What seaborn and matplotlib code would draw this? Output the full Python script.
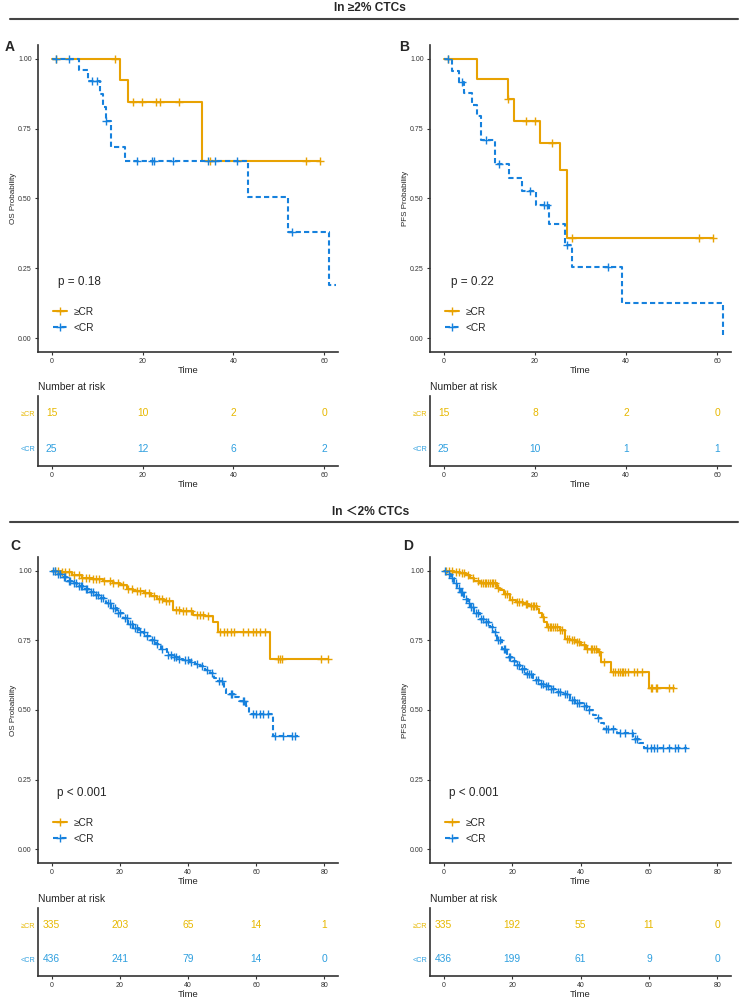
import numpy as np
import pandas as pd
import matplotlib
matplotlib.use('Agg')
import matplotlib.pyplot as plt
from matplotlib.lines import Line2D
import seaborn as sns

sns.set_style('ticks')
plt.rcParams['font.family'] = ['Liberation Sans', 'DejaVu Sans', 'Noto Sans CJK SC']
plt.rcParams['axes.unicode_minus'] = False

# 颜色
ORANGE = '#E8A202'
BLUE = '#1681DD'
ORANGE_TXT = '#E7B800'
BLUE_TXT = '#2E9FDF'
DASH = (0, (2.5, 1.5))

groups = ['≥CR', '<CR']

# ---------- A: OS, >=2% CTCs ----------
a_cr_t = [0, 15.1, 16.9, 33.1]
a_cr_s = [1.0, 0.923, 0.846, 0.634]
a_cr_end = 59.1
a_cr_cens = [0.9, 14.0, 17.9, 19.9, 23.0, 23.9, 28.0, 34.8, 56.0, 59.1]
a_ncr_t = [0, 6.1, 7.9, 10.7, 11.3, 11.9, 13.1, 16.2, 43.1, 52.1, 61.1]
a_ncr_s = [1.0, 0.96, 0.92, 0.874, 0.827, 0.779, 0.686, 0.634, 0.507, 0.380, 0.190]
a_ncr_end = 62.5
a_ncr_cens = [0.9, 3.9, 8.9, 10.0, 12.0, 18.8, 22.0, 22.6, 26.8, 34.4, 35.9, 40.8, 52.8]

# ---------- B: PFS, >=2% CTCs ----------
b_cr_t = [0, 7.2, 14.0, 15.5, 21.2, 25.5, 27.1]
b_cr_s = [1.0, 0.929, 0.857, 0.777, 0.70, 0.601, 0.482]
b_cr_t = b_cr_t + [27.1001]
b_cr_s = b_cr_s + [0.36]
b_cr_end = 59.0
b_cr_cens = [1.0, 14.1, 18.0, 20.0, 23.8, 28.2, 55.9, 59.0]
b_ncr_t = [0, 1.9, 3.4, 4.5, 6.3, 7.4, 8.1, 11.2, 14.3, 17.2, 20.3, 23.1, 26.5, 28.2, 39.1, 61.2]
b_ncr_s = [1.0, 0.958, 0.919, 0.877, 0.836, 0.794, 0.711, 0.622, 0.575, 0.527, 0.476, 0.408, 0.333, 0.254, 0.127, 0.01]
b_ncr_end = 61.3
b_ncr_cens = [1.0, 4.1, 9.2, 12.1, 18.9, 22.0, 22.7, 27.1, 36.0]

# ---------- C: OS, <2% CTCs ----------
c_cr_t = [0, 3, 6, 9, 12, 15, 18, 20, 22, 24, 27, 29, 31, 33, 35.7, 38, 41.5, 45, 47.3, 48.8, 64.1]
c_cr_s = [1.0, 0.995, 0.985, 0.975, 0.97, 0.964, 0.955, 0.948, 0.935, 0.928, 0.92, 0.91, 0.899,
          0.892, 0.86, 0.855, 0.842, 0.838, 0.815, 0.782, 0.684]
c_cr_end = 81.2
c_cr_cens = [1, 2, 3, 4, 5, 6.5, 8, 9, 10, 11, 12, 13, 14, 15.5, 17, 18, 19.5, 21, 22.5, 23.5,
             25, 26, 27.5, 28.5, 30, 31.5, 32.5, 33.5, 34.5, 36.5, 37.5, 38.5, 39.5, 41, 42.5,
             43.5, 44.5, 46, 49.5, 50.5, 51.5, 52.5, 53.5, 56, 57.5, 59, 60, 61, 62.5,
             66.3, 67, 67.7, 79, 81]
c_ncr_t = [0, 1.5, 3, 4.6, 6, 7.5, 9.4, 11, 12.5, 14.3, 16, 17.5, 19.2, 21, 22.5, 24, 25.5, 27.2,
           28.9, 30.5, 32, 33.7, 35.5, 37, 38.6, 40.5, 42, 43.4, 45, 46.4, 47.5, 48.3, 50.5, 51.2,
           53.5, 55.1, 57, 58, 64.8]
c_ncr_s = [1.0, 0.99, 0.978, 0.965, 0.955, 0.945, 0.934, 0.925, 0.915, 0.902, 0.885, 0.866, 0.848,
           0.83, 0.81, 0.794, 0.78, 0.767, 0.753, 0.737, 0.72, 0.699, 0.69, 0.683, 0.679, 0.672,
           0.665, 0.657, 0.645, 0.633, 0.615, 0.603, 0.575, 0.556, 0.548, 0.532, 0.514, 0.487, 0.406]
c_ncr_end = 72.3
c_ncr_cens = [0.5, 1, 2, 2.5, 3.5, 4, 5, 5.5, 6.5, 7, 8, 8.5, 9, 10, 10.5, 11.5, 12, 13, 13.5,
              14.5, 15, 16.5, 17, 18, 18.5, 19.5, 20, 21.5, 22, 23, 23.5, 24.5, 25, 26, 27, 28,
              29.5, 30, 31, 32.5, 34, 35, 36, 36.5, 37.5, 39, 40, 41, 42.5, 44, 45.5, 47, 49, 50,
              52.5, 53, 56, 56.5, 59, 60, 61, 62, 63.5, 65.5, 68, 70.5, 71.5]

# ---------- D: PFS, <2% CTCs ----------
d_cr_t = [0, 3, 4.9, 6.5, 7.8, 9, 10.7, 15.6, 16.5, 17.5, 19.4, 21, 23.3, 25, 27.2, 28, 28.6, 29.3,
          30.1, 33.9, 35.4, 37, 38.8, 40, 41.7, 45, 46, 48.9, 60]
d_cr_s = [1.0, 0.997, 0.994, 0.985, 0.976, 0.965, 0.955, 0.94, 0.93, 0.917, 0.895, 0.888, 0.881,
          0.874, 0.863, 0.85, 0.833, 0.815, 0.797, 0.786, 0.756, 0.75, 0.744, 0.732, 0.72, 0.708,
          0.673, 0.637, 0.58]
d_cr_end = 67.2
d_cr_cens = [0.8, 1.5, 2.5, 3.5, 4.5, 5.5, 6, 7, 8.5, 10, 11, 11.5, 12, 12.5, 13, 13.5, 14, 14.5,
             15, 16, 18, 18.5, 20, 21.5, 22, 23, 24, 24.5, 25.5, 26, 26.5, 27, 29, 30.5, 31, 31.5,
             32, 32.5, 33, 34, 34.5, 36, 36.5, 37.5, 38, 39, 39.5, 41, 42, 43, 43.5, 44, 44.5,
             45.5, 47, 49.5, 50, 51, 51.5, 52, 52.5, 53, 54, 55.5, 56.5, 58, 60.5, 61, 62, 62.5,
             66, 67]
d_ncr_t = [0, 1, 2, 3, 4, 4.9, 6, 7, 7.8, 9, 10.7, 12, 13.6, 14.5, 15.6, 17, 18.5, 20, 21, 22.3, 24,
           26.2, 28, 29.5, 31, 33, 35, 36.8, 38.5, 40.7, 42, 43.6, 44.5, 46, 47, 50.8, 55.3, 57, 58.6]
d_ncr_s = [1.0, 0.988, 0.976, 0.958, 0.94, 0.923, 0.9, 0.885, 0.869, 0.85, 0.828, 0.815, 0.798, 0.78,
           0.75, 0.72, 0.69, 0.675, 0.66, 0.649, 0.63, 0.607, 0.595, 0.585, 0.577, 0.565, 0.556,
           0.537, 0.525, 0.513, 0.5, 0.483, 0.47, 0.454, 0.432, 0.418, 0.394, 0.38, 0.365]
d_ncr_end = 71.1
d_ncr_cens = [0.5, 1.5, 2.5, 3.5, 4.5, 5, 5.5, 6.5, 7.5, 8, 8.5, 9.5, 10, 11, 11.5, 12.5, 13, 14,
              15, 16, 16.5, 17.5, 18, 19, 19.5, 20.5, 21.5, 22, 23, 23.5, 24.5, 25, 25.5, 27, 27.5,
              28.5, 29, 30, 30.5, 31.5, 32, 33.5, 34, 35.5, 36, 37.5, 38, 39, 39.5, 41, 41.5, 42.5,
              45, 47.5, 48, 49.5, 51.5, 53, 55, 56, 56.5, 59.5, 60.5, 61.5, 62.5, 64, 66, 67.5,
              68.5, 70.5]

# Number at risk
a_risk_cr = [15, 10, 2, 0]
a_risk_ncr = [25, 12, 6, 2]
b_risk_cr = [15, 8, 2, 0]
b_risk_ncr = [25, 10, 1, 1]
c_risk_cr = [335, 203, 65, 14, 1]
c_risk_ncr = [436, 241, 79, 14, 0]
d_risk_cr = [335, 192, 55, 11, 0]
d_risk_ncr = [436, 199, 61, 9, 0]

ticks_top = [0, 20, 40, 60]
ticks_bot = [0, 20, 40, 60, 80]
pvals = ['p = 0.18', 'p = 0.22', 'p < 0.001', 'p < 0.001']

W, H = 740, 999
fig = plt.figure(figsize=(W / 100, H / 100), dpi=100)


def px_axes(l, t, r, b):
    return fig.add_axes([l / W, 1 - b / H, (r - l) / W, (b - t) / H])


def draw_curve(ax, times, surv, t_end, cens, color, ls):
    df = pd.DataFrame({'t': list(times) + [t_end], 's': list(surv) + [surv[-1]]})
    sns.lineplot(data=df, x='t', y='s', drawstyle='steps-post', color=color,
                 linestyle=ls, linewidth=1.5, ax=ax, estimator=None)
    cens = np.array(cens)
    idx = np.searchsorted(times, cens, side='right') - 1
    cy = np.array(surv)[idx]
    sns.scatterplot(x=cens, y=cy, marker='+', s=28, color=color, linewidth=1.0, ax=ax, zorder=3)


def style_axes(ax, xlim, ticks):
    ax.set_xlim(*xlim)
    ax.set_xticks(ticks)
    sns.despine(ax=ax)
    for sp in ['left', 'bottom']:
        ax.spines[sp].set_color('#333333')
        ax.spines[sp].set_linewidth(1.2)
    ax.tick_params(axis='both', labelsize=5, length=2.5, width=0.8, colors='#333333', pad=2)
    ax.set_xlabel('Time', fontsize=6.8, labelpad=0.5)


def km_panel(ax, curves, xlim, ticks, ylabel, ptext, label, lab_xy):
    for (t, s, e, c, col, ls) in curves:
        draw_curve(ax, t, s, e, c, col, ls)
    style_axes(ax, xlim, ticks)
    ax.set_ylim(-0.05, 1.05)
    ax.set_yticks([0, 0.25, 0.5, 0.75, 1.0])
    ax.set_yticklabels(['0.00', '0.25', '0.50', '0.75', '1.00'])
    ax.set_ylabel(ylabel, fontsize=5.8, labelpad=1)
    ax.text(1.5, 0.2, ptext, fontsize=8.5, ha='left', va='center')
    handles = [Line2D([], [], color=ORANGE, lw=1.5, marker='+', markersize=6),
               Line2D([], [], color=BLUE, lw=1.5, ls=DASH, marker='+', markersize=6)]
    ax.legend(handles, groups, loc='center left', bbox_to_anchor=(0.02, 0.105), frameon=False,
              fontsize=7.3, handlelength=1.4, handletextpad=0.6, labelspacing=0.6)
    ax.text(lab_xy[0], lab_xy[1], label, transform=ax.transAxes, fontsize=10, fontweight='bold',
            ha='left', va='center')


def risk_panel(ax, xlim, ticks, cr, ncr):
    style_axes(ax, xlim, ticks)
    ax.set_ylim(0.5, 2.5)
    ax.set_yticks([2, 1])
    ax.set_yticklabels(groups)
    ax.tick_params(axis='y', length=0, labelsize=5.2)
    for lab, col in zip(ax.get_yticklabels(), [ORANGE_TXT, BLUE_TXT]):
        lab.set_color(col)
    for x, v in zip(ticks, cr):
        ax.text(x, 2, str(v), color=ORANGE_TXT, fontsize=7.4, ha='center', va='center')
    for x, v in zip(ticks, ncr):
        ax.text(x, 1, str(v), color=BLUE_TXT, fontsize=7.4, ha='center', va='center')
    ax.set_title('Number at risk', loc='left', fontsize=7.4, pad=4)


# 标题与分隔线
fig.text(370 / W, 1 - 8 / H, 'In ≥2% CTCs', fontsize=8.6, fontweight='bold', ha='center', va='center')
fig.add_artist(Line2D([10 / W, 738 / W], [1 - 19 / H] * 2, color='#444444', lw=1.5))
fig.text(371 / W, 1 - 512 / H, 'In ＜2% CTCs', fontsize=8.6, fontweight='bold', ha='center',
         va='center', family=['Liberation Sans', 'Noto Sans CJK SC'])
fig.add_artist(Line2D([10 / W, 738 / W], [1 - 522 / H] * 2, color='#444444', lw=1.5))

axA = px_axes(38, 45, 338, 352)
km_panel(axA, [(a_cr_t, a_cr_s, a_cr_end, a_cr_cens, ORANGE, '-'),
               (a_ncr_t, a_ncr_s, a_ncr_end, a_ncr_cens, BLUE, DASH)],
         (-3, 63), ticks_top, 'OS Probability', pvals[0], 'A', (-0.11, 0.993))
axB = px_axes(430, 45, 731, 352)
km_panel(axB, [(b_cr_t, b_cr_s, b_cr_end, b_cr_cens, ORANGE, '-'),
               (b_ncr_t, b_ncr_s, b_ncr_end, b_ncr_cens, BLUE, DASH)],
         (-3, 63), ticks_top, 'PFS Probability', pvals[1], 'B', (-0.103, 0.993))
axC = px_axes(38, 557, 338, 863)
km_panel(axC, [(c_cr_t, c_cr_s, c_cr_end, c_cr_cens, ORANGE, '-'),
               (c_ncr_t, c_ncr_s, c_ncr_end, c_ncr_cens, BLUE, DASH)],
         (-4, 84), ticks_bot, 'OS Probability', pvals[2], 'C', (-0.093, 1.036))
axD = px_axes(430, 557, 731, 863)
km_panel(axD, [(d_cr_t, d_cr_s, d_cr_end, d_cr_cens, ORANGE, '-'),
               (d_ncr_t, d_ncr_s, d_ncr_end, d_ncr_cens, BLUE, DASH)],
         (-4, 84), ticks_bot, 'PFS Probability', pvals[3], 'D', (-0.09, 1.036))

risk_panel(px_axes(38, 396, 338, 466), (-3, 63), ticks_top, a_risk_cr, a_risk_ncr)
risk_panel(px_axes(430, 396, 731, 466), (-3, 63), ticks_top, b_risk_cr, b_risk_ncr)
risk_panel(px_axes(38, 908, 338, 976), (-4, 84), ticks_bot, c_risk_cr, c_risk_ncr)
risk_panel(px_axes(430, 908, 731, 976), (-4, 84), ticks_bot, d_risk_cr, d_risk_ncr)

fig.savefig('out.png', dpi=100, facecolor='white')
